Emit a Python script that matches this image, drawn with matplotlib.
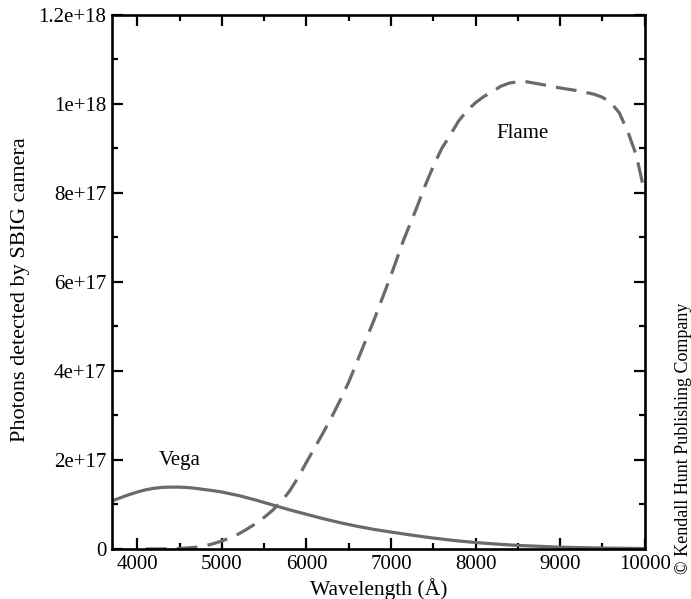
import matplotlib
matplotlib.use("Agg")
import matplotlib.pyplot as plt
from matplotlib.ticker import MultipleLocator

plt.rcParams['font.family'] = ['Liberation Serif', 'DejaVu Serif']

# Vega spectrum detected (photons)
vega_wl = [3700, 3800, 3900, 4000, 4100, 4200, 4300, 4400, 4500, 4600, 4700, 4800,
           4900, 5000, 5200, 5400, 5600, 5800, 6000, 6200, 6400, 6600, 6800, 7000,
           7250, 7500, 7750, 8000, 8250, 8500, 8750, 9000, 9250, 9500, 9750, 10000]
vega_ph = [1.08e17, 1.15e17, 1.22e17, 1.28e17, 1.33e17, 1.365e17, 1.385e17, 1.39e17,
           1.39e17, 1.38e17, 1.36e17, 1.335e17, 1.31e17, 1.28e17, 1.20e17, 1.10e17,
           0.99e17, 0.88e17, 0.78e17, 0.68e17, 0.59e17, 0.51e17, 0.44e17, 0.38e17,
           0.31e17, 0.245e17, 0.19e17, 0.145e17, 0.11e17, 0.08e17, 0.06e17, 0.04e17,
           0.03e17, 0.02e17, 0.015e17, 0.01e17]

# Flame spectrum detected (photons)
flame_wl = [4100, 4300, 4500, 4700, 4800, 4900, 5000, 5100, 5200, 5300, 5400, 5500,
            5600, 5700, 5800, 5900, 6000, 6100, 6200, 6300, 6400, 6500, 6650, 6800,
            7000, 7150, 7300, 7400, 7500, 7600, 7700, 7800, 7900, 8000, 8100, 8200,
            8300, 8400, 8500, 8600, 8750, 9000, 9200, 9400, 9500, 9600, 9700, 9800,
            9900, 10000]
flame_ph = [0.0, 0.002e17, 0.01e17, 0.04e17, 0.07e17, 0.12e17, 0.18e17, 0.25e17,
            0.34e17, 0.45e17, 0.57e17, 0.71e17, 0.87e17, 1.06e17, 1.30e17, 1.60e17,
            1.95e17, 2.28e17, 2.62e17, 2.97e17, 3.35e17, 3.75e17, 4.45e17, 5.15e17,
            6.15e17, 6.95e17, 7.65e17, 8.15e17, 8.60e17, 9.00e17, 9.30e17, 9.62e17,
            9.85e17, 10.03e17, 10.17e17, 10.28e17, 10.40e17, 10.47e17, 10.50e17,
            10.50e17, 10.45e17, 10.36e17, 10.30e17, 10.22e17, 10.15e17, 10.03e17,
            9.80e17, 9.38e17, 8.85e17, 8.00e17]

x_ticks = [4000, 5000, 6000, 7000, 8000, 9000, 10000]
y_ticks = [0, 2e17, 4e17, 6e17, 8e17, 1e18, 1.2e18]
y_tick_labels = ['0', '2e+17', '4e+17', '6e+17', '8e+17', '1e+18', '1.2e+18']

fig = plt.figure(figsize=(6.91, 5.99), dpi=100)
ax = fig.add_axes([0.162, 0.0835, 0.771, 0.8915])

gray = '#6a6a6a'
ax.plot(vega_wl, vega_ph, color=gray, lw=2.3, solid_capstyle='butt')
ax.plot(flame_wl, flame_ph, color=gray, lw=2.3, dashes=(6.5, 3.2), dash_capstyle='butt')

ax.set_xlim(3700, 10000)
ax.set_ylim(0, 1.2e18)
ax.set_xticks(x_ticks)
ax.set_xticklabels([str(v) for v in x_ticks])
ax.set_yticks(y_ticks)
ax.set_yticklabels(y_tick_labels)
ax.xaxis.set_minor_locator(MultipleLocator(500))
ax.yaxis.set_minor_locator(MultipleLocator(1e17))

ax.tick_params(which='both', direction='in', top=True, right=True, width=1.6,
               labelsize=15, pad=4)
ax.tick_params(which='major', length=8)
ax.tick_params(which='minor', length=4.5)
for s in ax.spines.values():
    s.set_linewidth(1.9)

ax.set_xlabel('Wavelength (Å)', fontsize=15.5, labelpad=3)
ax.set_ylabel('Photons detected by SBIG camera', fontsize=16)
ax.yaxis.set_label_coords(-0.153, 0.485)

ax.text(4500, 1.98e17, 'Vega', fontsize=15, ha='center', va='center')
ax.text(8550, 9.33e17, 'Flame', fontsize=15, ha='center', va='center')

fig.text(0.989, 0.269, '© Kendall Hunt Publishing Company', rotation=90,
         fontsize=13, ha='center', va='center')

fig.savefig('out.png', dpi=100)
